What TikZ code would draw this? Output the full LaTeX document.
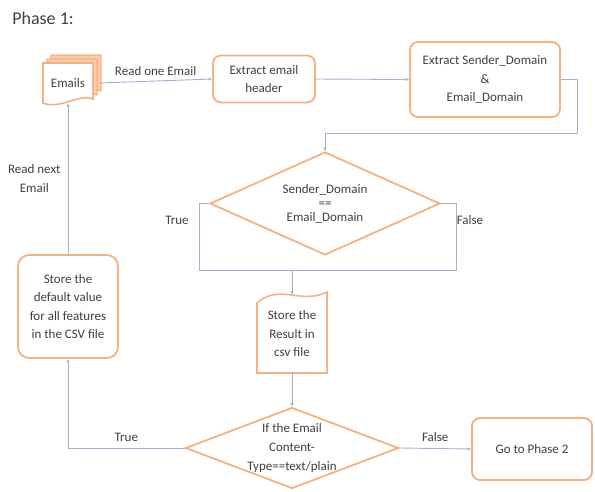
\documentclass[tikz,border=0pt]{standalone}
\usepackage{fontspec}
\setmainfont{Carlito}
\usetikzlibrary{calc, shapes.geometric, arrows.meta, positioning}
\definecolor{boxline}{HTML}{F4B183}
\definecolor{flowline}{HTML}{A3B1D3}
\definecolor{txt}{HTML}{404040}

\begin{document}
\begin{tikzpicture}[x=1pt,y=-1pt,
	every node/.style={text=txt,align=center,inner sep=1pt,font=\fontsize{13}{18.5}\selectfont},
	procbox/.style={draw=boxline,line width=1.8pt,rounded corners=8pt,fill=white},
	decision/.style={diamond,draw=boxline,line width=1.8pt,fill=white,inner sep=-6pt},
	link/.style={draw=flowline,line width=0.9pt},
	flow/.style={link,-{Latex[length=3.5pt,width=3.5pt]}}]
	\useasboundingbox (0,0) rectangle (595,491);
	\node (title) at (43,18) {\fontsize{18}{20}\selectfont Phase 1:};
	\foreach \d in {8,4}
		\draw[draw=boxline,fill=boxline!65,line width=1.2pt,shift={(\d,-\d)}] (43,63) -- (93,63) -- (93,99) .. controls (80,93) and (60,110) .. (43,103) -- cycle;
	\draw[draw=boxline,fill=white,line width=1.6pt] (43,63) -- (93,63) -- (93,99) .. controls (80,93) and (60,110) .. (43,103) -- cycle;
	\node[minimum width=50,minimum height=40] (emails) at (68,83) {Emails};
	\node[procbox,minimum width=102,minimum height=47] (header) at (264,79) {Extract email\\header};
	\node[procbox,minimum width=150,minimum height=75] (sender) at (485,79.5) {Extract Sender\_Domain\\\&\\Email\_Domain};
	\node[decision,shape aspect=2.23,minimum width=230,minimum height=103,font=\fontsize{13}{14}\selectfont] (check1) at (325,203.5) {Sender\_Domain\\==\\Email\_Domain};
	\draw[draw=boxline,fill=white,line width=1.6pt] (257,373) -- (257,303) .. controls (280,283) and (300,305) .. (327,292) -- (327,373) -- cycle;
	\node[minimum width=70,minimum height=78] (storecsv) at (292,334) {Store the\\Result in\\csv file};
	\node[decision,shape aspect=2.63,minimum width=213,minimum height=81,font=\fontsize{13}{19}\selectfont] (check2) at (292,448) {If the Email\\Content-\\Type==text/plain};
	\node[procbox,minimum width=120,minimum height=62] (phase2) at (532,449) {Go to Phase 2};
	\node[procbox,rounded corners=11pt,minimum width=100,minimum height=103] (storedef) at (68,306.5) {Store the\\default value\\for all features\\in the CSV file};
	\coordinate (jog) at (577,133);
	\coordinate (merge) at (292,270);
	\draw[flow] ([xshift=6pt]emails.east) -- node[above=4pt] {Read one Email} (header.west);
	\draw[flow] (header.east) -- (sender.west);
	\draw[flow] (sender.east) -| (jog) -| (check1.north);
	\draw[link] (check1.west) -- ++(-10,0) |- (merge);
	\draw[link] (check1.east) -- ++(16,0) |- (merge);
	\node (true1) at (177,220) {True};
	\node (false1) at (470,220) {False};
	\draw[flow] (merge) -- (storecsv.north);
	\draw[flow] (storecsv.south) -- (check2.north);
	\draw[flow] (check2.east) -- node[above=5pt] {False} (phase2.west);
	\draw[flow] (check2.west) -| node[pos=0.25,above=5pt] {True} (storedef.south);
	\draw[flow] (storedef.north) -- node[left=6pt] {Read next\\Email} (emails.south);
\end{tikzpicture}
\end{document}
